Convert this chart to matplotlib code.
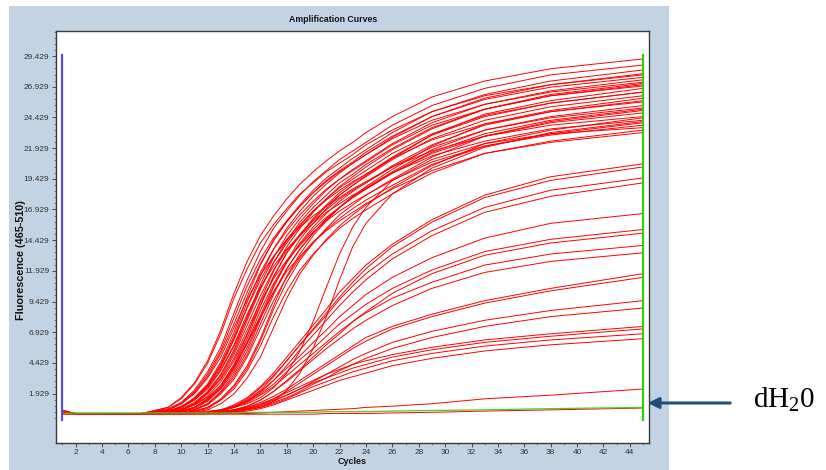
import matplotlib
matplotlib.use("Agg")
import matplotlib.pyplot as plt
from matplotlib.patches import Rectangle, FancyArrowPatch
from matplotlib.ticker import FixedLocator, FormatStrFormatter

plt.rcParams['font.family'] = ['Liberation Sans', 'DejaVu Sans']
plt.rcParams['mathtext.fontset'] = 'custom'
plt.rcParams['mathtext.rm'] = 'Liberation Serif'

cycles = [1, 2, 7, 9, 10, 11, 12, 13, 14, 15, 16, 17, 18, 19, 20, 21, 22, 23, 24, 26, 29, 33, 38, 45]

# main bundle of positive samples
main_curves = [
    [0.5, 0.3, 0.3, 0.8, 1.6, 2.8, 4.6, 7.1, 10.1, 12.7, 14.8, 16.4, 17.8, 19.0, 20.0, 20.9, 21.7, 22.4, 23.2, 24.5, 26.1, 27.4, 28.4, 29.2],
    [0.3, 0.3, 0.3, 0.7, 1.2, 2.2, 3.7, 5.7, 8.5, 11.2, 13.5, 15.4, 16.8, 18.1, 19.2, 20.1, 21.0, 21.7, 22.4, 23.8, 25.4, 26.8, 27.9, 28.7],
    [0.4, 0.3, 0.3, 0.8, 1.5, 2.7, 4.4, 6.8, 9.7, 12.1, 14.2, 15.7, 17.0, 18.2, 19.1, 20.0, 20.7, 21.4, 22.2, 23.4, 24.9, 26.2, 27.1, 27.9],
    [0.3, 0.3, 0.3, 0.5, 0.8, 1.6, 2.7, 4.5, 6.9, 9.8, 12.4, 14.4, 16.0, 17.3, 18.5, 19.5, 20.3, 21.1, 21.8, 23.2, 24.9, 26.3, 27.4, 28.3],
    [0.3, 0.3, 0.3, 0.6, 1.1, 2.1, 3.5, 5.4, 8.1, 10.7, 12.9, 14.6, 16.0, 17.2, 18.3, 19.2, 20.0, 20.7, 21.4, 22.7, 24.2, 25.5, 26.5, 27.3],
    [0.3, 0.3, 0.3, 0.4, 0.7, 1.2, 2.1, 3.5, 5.5, 8.2, 10.8, 13.0, 14.8, 16.2, 17.4, 18.5, 19.4, 20.2, 20.9, 22.3, 24.0, 25.5, 26.6, 27.5],
    [0.4, 0.3, 0.3, 0.5, 0.8, 1.5, 2.6, 4.3, 6.6, 9.4, 11.8, 13.7, 15.2, 16.5, 17.6, 18.6, 19.4, 20.1, 20.8, 22.2, 23.8, 25.1, 26.2, 27.0],
    [0.3, 0.3, 0.3, 0.3, 0.5, 0.8, 1.5, 2.6, 4.3, 6.7, 9.5, 11.9, 13.9, 15.4, 16.7, 17.8, 18.8, 19.6, 20.4, 21.8, 23.5, 25.1, 26.3, 27.2],
    [0.3, 0.3, 0.3, 0.4, 0.6, 1.1, 2.0, 3.4, 5.3, 7.9, 10.4, 12.6, 14.2, 15.6, 16.8, 17.8, 18.7, 19.4, 20.1, 21.5, 23.1, 24.6, 25.6, 26.5],
    [0.3, 0.3, 0.3, 0.3, 0.4, 0.6, 1.1, 2.1, 3.5, 5.4, 8.0, 10.6, 12.7, 14.5, 15.8, 17.0, 18.1, 18.9, 19.7, 21.1, 23.0, 24.7, 25.8, 26.8],
    [0.4, 0.3, 0.3, 0.3, 0.5, 0.8, 1.5, 2.6, 4.2, 6.4, 9.1, 11.5, 13.4, 14.8, 16.1, 17.2, 18.1, 18.9, 19.6, 21.0, 22.7, 24.2, 25.3, 26.2],
    [0.3, 0.3, 0.3, 0.5, 0.8, 1.5, 2.5, 4.1, 6.3, 8.9, 11.2, 13.1, 14.5, 15.7, 16.8, 17.7, 18.5, 19.2, 19.8, 21.1, 22.6, 23.9, 24.9, 25.7],
    [0.3, 0.3, 0.3, 0.3, 0.3, 0.5, 0.8, 1.5, 2.6, 4.2, 6.4, 9.1, 11.5, 13.3, 14.8, 16.0, 17.1, 18.0, 18.8, 20.2, 22.1, 23.9, 25.0, 26.0],
    [0.3, 0.3, 0.3, 0.3, 0.4, 0.6, 1.1, 2.0, 3.3, 5.1, 7.6, 10.0, 12.1, 13.7, 15.0, 16.2, 17.1, 18.0, 18.7, 20.0, 21.8, 23.4, 24.5, 25.4],
    [0.4, 0.3, 0.3, 0.4, 0.6, 1.1, 2.0, 3.2, 5.1, 7.5, 9.9, 12.0, 13.6, 14.9, 16.0, 16.9, 17.8, 18.5, 19.1, 20.4, 22.0, 23.4, 24.4, 25.2],
    [0.3, 0.3, 0.3, 0.3, 0.3, 0.5, 0.8, 1.4, 2.5, 4.0, 6.2, 8.8, 11.0, 12.8, 14.2, 15.4, 16.5, 17.3, 18.1, 19.4, 21.2, 22.9, 24.1, 25.0],
    [0.3, 0.3, 0.3, 0.3, 0.5, 0.8, 1.4, 2.4, 4.0, 6.1, 8.7, 10.9, 12.7, 14.1, 15.3, 16.3, 17.1, 17.9, 18.6, 19.9, 21.5, 22.9, 24.0, 24.8],
    [0.5, 0.3, 0.3, 0.6, 1.1, 1.9, 3.2, 4.9, 7.3, 9.6, 11.6, 13.1, 14.4, 15.5, 16.4, 17.2, 17.9, 18.6, 19.2, 20.4, 21.7, 22.9, 23.8, 24.5],
    [0.3, 0.3, 0.3, 0.3, 0.3, 0.4, 0.6, 1.1, 1.9, 3.2, 4.9, 7.3, 9.7, 11.7, 13.2, 14.5, 15.6, 16.5, 17.3, 18.7, 20.5, 22.3, 23.4, 24.4],
    [0.3, 0.3, 0.3, 0.3, 0.4, 0.6, 1.0, 1.9, 3.1, 4.9, 7.2, 9.5, 11.4, 13.0, 14.2, 15.3, 16.2, 17.0, 17.7, 18.9, 20.6, 22.1, 23.1, 24.0],
    [0.3, 0.3, 0.3, 0.4, 0.6, 1.0, 1.9, 3.1, 4.8, 7.1, 9.4, 11.3, 12.8, 14.0, 15.1, 16.0, 16.8, 17.5, 18.1, 19.3, 20.8, 22.1, 23.0, 23.8],
    [0.3, 0.3, 0.3, 0.3, 0.3, 0.5, 0.7, 1.4, 2.3, 3.8, 5.8, 8.2, 10.3, 12.0, 13.3, 14.4, 15.4, 16.2, 16.9, 18.2, 19.9, 21.5, 22.5, 23.4],
    [0.3, 0.3, 0.3, 0.3, 0.5, 0.7, 1.3, 2.3, 3.7, 5.7, 8.1, 10.2, 11.9, 13.1, 14.3, 15.2, 16.0, 16.7, 17.4, 18.6, 20.1, 21.5, 22.4, 23.2],
    [0.3, 0.3, 0.3, 0.5, 0.8, 1.4, 2.4, 3.9, 5.9, 8.4, 10.6, 12.3, 13.7, 14.8, 15.8, 16.7, 17.4, 18.1, 18.6, 19.9, 21.3, 22.5, 23.5, 24.2],
    [0.3, 0.3, 0.3, 0.4, 0.8, 1.4, 2.3, 3.8, 5.8, 8.1, 10.5, 12.6, 14.4, 15.9, 17.1, 18.1, 19.1, 19.8, 20.6, 21.9, 23.6, 25.1, 26.2, 27.1],
    [0.3, 0.3, 0.3, 0.4, 0.6, 1.0, 1.7, 2.9, 4.6, 6.8, 9.1, 11.4, 13.4, 14.9, 16.2, 17.3, 18.3, 19.1, 19.8, 21.2, 23.0, 24.5, 25.6, 26.5],
    [0.3, 0.3, 0.3, 0.4, 0.5, 0.8, 1.4, 2.4, 3.9, 6.0, 8.3, 10.7, 12.6, 14.2, 15.5, 16.6, 17.6, 18.4, 19.1, 20.5, 22.2, 23.8, 24.9, 25.8],
    [0.3, 0.3, 0.3, 0.6, 1.1, 2.0, 3.3, 5.2, 7.6, 10.2, 12.5, 14.4, 15.9, 17.2, 18.3, 19.3, 20.1, 20.8, 21.6, 22.9, 24.5, 25.9, 26.9, 27.7],
    [0.3, 0.3, 0.3, 0.4, 0.6, 1.0, 1.6, 2.6, 4.1, 6.1, 8.1, 10.2, 12.1, 13.7, 15.0, 16.1, 17.1, 17.9, 18.6, 19.9, 21.6, 23.1, 24.2, 25.1],
    [0.3, 0.3, 0.3, 0.5, 0.9, 1.5, 2.6, 4.2, 6.4, 9.0, 11.5, 13.7, 15.4, 16.8, 18.0, 19.0, 19.9, 20.7, 21.4, 22.8, 24.5, 26.0, 27.1, 28.0],
]

# two late but steep curves that join the bundle
late_curves = [
    [0.3, 0.3, 0.3, 0.3, 0.3, 0.3, 0.4, 0.5, 0.6, 0.7, 0.8, 1.3, 2.2, 3.6, 5.6, 8.2, 11.2, 13.9, 15.8, 18.2, 20.3, 22.0, 23.2, 24.1],
    [0.3, 0.3, 0.3, 0.3, 0.3, 0.4, 0.5, 0.6, 0.8, 1.1, 1.6, 2.4, 3.6, 5.4, 7.8, 10.6, 13.3, 15.5, 17.1, 19.3, 21.0, 22.3, 23.1, 23.6],
]

# medium plateau curves
mid_curves = [
    [0.3, 0.3, 0.3, 0.3, 0.3, 0.3, 0.4, 0.6, 1.0, 1.6, 2.5, 3.6, 4.9, 6.2, 7.5, 8.8, 10.2, 11.3, 12.4, 14.1, 16.1, 18.1, 19.6, 20.65],
    [0.3, 0.3, 0.3, 0.3, 0.3, 0.3, 0.4, 0.5, 0.9, 1.4, 2.2, 3.3, 4.6, 5.9, 7.2, 8.5, 9.8, 11.0, 12.1, 13.9, 15.9, 17.9, 19.3, 20.4],
    [0.3, 0.3, 0.3, 0.3, 0.3, 0.3, 0.4, 0.6, 0.9, 1.5, 2.4, 3.4, 4.6, 5.9, 7.1, 8.3, 9.6, 10.7, 11.7, 13.3, 15.2, 17.1, 18.5, 19.5],
    [0.3, 0.3, 0.3, 0.3, 0.3, 0.3, 0.3, 0.5, 0.8, 1.3, 2.0, 3.0, 4.2, 5.5, 6.7, 7.9, 9.1, 10.2, 11.2, 12.9, 14.8, 16.7, 18.0, 19.1],
    [0.3, 0.3, 0.3, 0.3, 0.3, 0.3, 0.4, 0.5, 0.9, 1.3, 2.1, 3.0, 4.0, 5.0, 6.1, 7.1, 8.2, 9.1, 10.0, 11.4, 13.0, 14.6, 15.8, 16.6],
    [0.3, 0.3, 0.3, 0.3, 0.3, 0.3, 0.4, 0.5, 0.8, 1.3, 1.9, 2.7, 3.7, 4.7, 5.6, 6.6, 7.6, 8.4, 9.2, 10.5, 12.0, 13.5, 14.5, 15.3],
    [0.3, 0.3, 0.3, 0.3, 0.3, 0.3, 0.3, 0.4, 0.6, 0.9, 1.4, 2.1, 3.0, 3.9, 4.9, 5.9, 6.8, 7.8, 8.6, 10.1, 11.7, 13.2, 14.2, 15.0],
    [0.3, 0.3, 0.3, 0.3, 0.3, 0.3, 0.4, 0.5, 0.8, 1.2, 1.8, 2.5, 3.4, 4.3, 5.2, 6.1, 7.0, 7.8, 8.5, 9.7, 11.0, 12.4, 13.3, 14.0],
    [0.3, 0.3, 0.3, 0.3, 0.3, 0.3, 0.3, 0.4, 0.6, 0.9, 1.4, 2.1, 2.9, 3.8, 4.7, 5.6, 6.4, 7.2, 7.9, 9.1, 10.5, 11.8, 12.7, 13.4],
]

# low plateau curves
low_curves = [
    [0.3, 0.3, 0.3, 0.3, 0.3, 0.3, 0.3, 0.4, 0.6, 0.8, 1.2, 1.7, 2.3, 3.0, 3.7, 4.4, 5.1, 5.8, 6.5, 7.4, 8.4, 9.5, 10.5, 11.7],
    [0.3, 0.3, 0.3, 0.3, 0.3, 0.3, 0.3, 0.4, 0.5, 0.7, 1.0, 1.5, 2.1, 2.8, 3.5, 4.2, 4.9, 5.6, 6.2, 7.2, 8.2, 9.3, 10.3, 11.4],
    [0.3, 0.3, 0.3, 0.3, 0.3, 0.3, 0.3, 0.4, 0.5, 0.7, 0.9, 1.3, 1.8, 2.3, 2.9, 3.5, 4.1, 4.7, 5.2, 6.1, 7.0, 7.9, 8.7, 9.5],
    [0.3, 0.3, 0.3, 0.3, 0.3, 0.3, 0.3, 0.3, 0.4, 0.6, 0.8, 1.2, 1.6, 2.1, 2.7, 3.2, 3.8, 4.3, 4.8, 5.6, 6.5, 7.4, 8.2, 8.9],
    [0.3, 0.3, 0.3, 0.3, 0.3, 0.3, 0.3, 0.4, 0.6, 0.8, 1.1, 1.5, 2.0, 2.5, 3.0, 3.5, 3.9, 4.3, 4.6, 5.1, 5.7, 6.3, 6.8, 7.4],
    [0.3, 0.3, 0.3, 0.3, 0.3, 0.3, 0.3, 0.3, 0.5, 0.7, 1.0, 1.4, 1.8, 2.3, 2.8, 3.2, 3.6, 4.0, 4.3, 4.9, 5.5, 6.1, 6.6, 7.2],
    [0.3, 0.3, 0.3, 0.3, 0.3, 0.3, 0.3, 0.3, 0.4, 0.6, 0.8, 1.1, 1.5, 2.0, 2.5, 2.9, 3.3, 3.7, 4.0, 4.6, 5.2, 5.8, 6.3, 6.8],
    [0.3, 0.3, 0.3, 0.3, 0.3, 0.3, 0.3, 0.3, 0.4, 0.5, 0.7, 1.0, 1.4, 1.8, 2.2, 2.6, 3.0, 3.3, 3.6, 4.2, 4.8, 5.4, 5.9, 6.4],
    [0.3, 0.3, 0.3, 0.3, 0.3, 0.3, 0.3, 0.3, 0.3, 0.3, 0.35, 0.4, 0.45, 0.5, 0.55, 0.6, 0.65, 0.7, 0.8, 0.9, 1.1, 1.5, 1.8, 2.3],
]

# negative controls
neg_curves = [
    [0.6, 0.3, 0.25, 0.25, 0.25, 0.25, 0.25, 0.25, 0.25, 0.25, 0.25, 0.25, 0.25, 0.25, 0.25, 0.3, 0.3, 0.3, 0.3, 0.35, 0.4, 0.5, 0.6, 0.75],
]
water_curve = [0.3, 0.35, 0.35, 0.35, 0.35, 0.35, 0.35, 0.35, 0.35, 0.4, 0.4, 0.4, 0.4, 0.4, 0.4, 0.45, 0.45, 0.45, 0.45, 0.5, 0.55, 0.6, 0.7, 0.8]

cursor_cycles = [1, 45]
cursor_span = [-0.2, 29.5]

y_ticks = [1.929, 4.429, 6.929, 9.429, 11.929, 14.429, 16.929, 19.429, 21.929, 24.429, 26.929, 29.429]
x_ticks = list(range(2, 46, 2))

W, H = 826, 470
fig = plt.figure(figsize=(W / 100, H / 100), dpi=100)
bg = Rectangle((9 / W, 0), 660 / W, 464 / H, transform=fig.transFigure,
               facecolor='#c2d4e4', edgecolor='none', zorder=-10)
fig.add_artist(bg)

ax = fig.add_axes([55.7 / W, 27 / H, (649 - 55.7) / W, (443 - 30.7) / H])
ax.set_zorder(2)
ax.set_facecolor('white')

for row in main_curves + late_curves + mid_curves + low_curves + neg_curves:
    ax.plot(cycles, row, color='#ff0000', lw=0.7)
ax.plot(cycles, water_curve, color='#3fd21e', lw=0.9)

ax.plot([cursor_cycles[0]] * 2, cursor_span, color='#5050f0', lw=1.6)
ax.plot([cursor_cycles[1]] * 2, cursor_span, color='#33cc11', lw=1.6)

ax.set_xlim(0.49, 45.45)
ax.set_ylim(-2.1, 31.5)

ax.set_xticks(x_ticks)
ax.xaxis.set_minor_locator(FixedLocator(list(range(1, 46))))
ax.set_yticks(y_ticks)
ax.yaxis.set_major_formatter(FormatStrFormatter('%.3f'))
y_minor = [round(t + d, 3) for t in [-0.571] + y_ticks for d in (0.5, 1.0, 1.5, 2.0)]
ax.yaxis.set_minor_locator(FixedLocator(y_minor))

ax.tick_params(which='major', direction='out', length=3, width=0.6, labelsize=6,
               colors='#333333', pad=1.5)
ax.tick_params(which='minor', direction='out', length=1.5, width=0.5, colors='#555555')

for side in ['top', 'right', 'bottom', 'left']:
    ax.spines[side].set_color('#3a3a3a')
    ax.spines[side].set_linewidth(1.0)

fig.text(333 / W, 1 - 20 / H, 'Amplification Curves', ha='center', va='center',
         fontsize=6.3, fontweight='bold', color='#111111')
fig.text(20.7 / W, 1 - 260 / H, 'Fluorescence (465-510)', rotation=90, ha='center',
         va='center', fontsize=7.8, fontweight='bold', color='#111111')
fig.text(352 / W, 1 - 461 / H, 'Cycles', ha='center', va='center',
         fontsize=6.5, fontweight='bold', color='#111111')

# arrow to the water control
arrow = FancyArrowPatch((733 / W, 1 - 403 / H), (645 / W, 1 - 403 / H),
                        transform=fig.transFigure, arrowstyle='-|>',
                        mutation_scale=16, lw=2.2, color='#1f4e79', zorder=5)
fig.add_artist(arrow)
fig.text(753 / W, 1 - 407 / H, 'dH$_2$0', ha='left', va='baseline',
         fontsize=21, family='Liberation Serif', color='black')

fig.savefig('out.png', dpi=100)
